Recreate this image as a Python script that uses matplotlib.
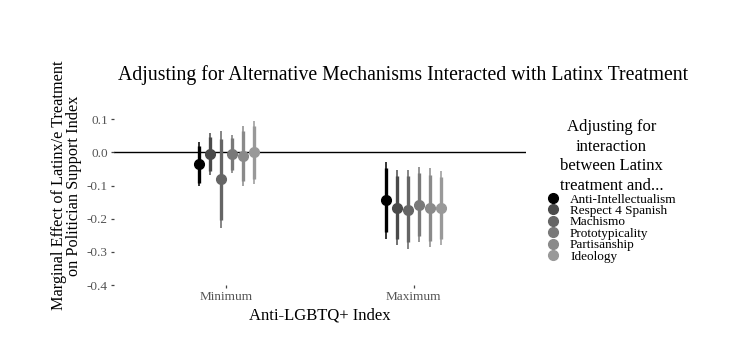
import matplotlib.pyplot as plt
from matplotlib.lines import Line2D
import numpy as np

plt.rcParams['font.family'] = ['Liberation Serif', 'DejaVu Serif']

# datos
levels = ['Minimum', 'Maximum']
mechanisms = ['Anti-Intellectualism', 'Respect 4 Spanish', 'Machismo',
              'Prototypicality', 'Partisanship', 'Ideology']
est_min = [-0.035, -0.006, -0.080, -0.006, -0.010, 0.000]
lo_min = [-0.102, -0.067, -0.227, -0.063, -0.100, -0.095]
hi_min = [0.030, 0.057, 0.063, 0.052, 0.080, 0.095]
est_max = [-0.145, -0.167, -0.173, -0.158, -0.167, -0.167]
lo_max = [-0.260, -0.280, -0.290, -0.270, -0.285, -0.280]
hi_max = [-0.030, -0.052, -0.052, -0.045, -0.048, -0.055]
yticks = [0.1, 0.0, -0.1, -0.2, -0.3, -0.4]

greys = ['#000000', '#4a4a4a', '#656565', '#797979', '#8a8a8a', '#999999']

W, H = 742, 351
fig = plt.figure(figsize=(W / 100, H / 100), dpi=100)
# panel en pixeles: x 114-526, y 86-285
ax = fig.add_axes([114 / W, 1 - 285 / H, (526 - 114) / W, (285 - 86) / H])

ax.axhline(0, color='black', lw=1.0, zorder=1)

dodge = 0.058
est = np.array([est_min, est_max])
lo = np.array([lo_min, lo_max])
hi = np.array([hi_min, hi_max])
for j, name in enumerate(mechanisms):
    off = (j - 2.5) * dodge
    for i in range(len(levels)):
        x = i + 1 + off
        half = (hi[i, j] - lo[i, j]) / 2
        mid = (hi[i, j] + lo[i, j]) / 2
        ax.plot([x, x], [lo[i, j], hi[i, j]], color=greys[j], lw=1.1,
                solid_capstyle='butt', zorder=2)
        ax.plot([x, x], [mid - 0.84 * half, mid + 0.84 * half], color=greys[j],
                lw=2.4, solid_capstyle='butt', zorder=2)
    ax.plot(np.arange(1, len(levels) + 1) + off, est[:, j], 'o', color=greys[j],
            ms=7, zorder=3)

ax.set_xlim(0.4, 2.6)
ax.set_ylim(-0.4, 0.2)
ax.set_xticks([1, 2])
ax.set_xticklabels(levels)
ax.set_yticks(yticks)
ax.set_yticklabels(['%.1f' % v for v in yticks])
for s in ax.spines.values():
    s.set_visible(False)
ax.tick_params(axis='both', colors='#444444', labelcolor='#555555', labelsize=9.5,
               length=2.5, width=0.9, pad=2)

ax.set_xlabel('Anti-LGBTQ+ Index', fontsize=12, labelpad=3)
ax.set_ylabel('Marginal Effect of Latinx/e Treatment\non Politician Support Index',
              fontsize=11.7, labelpad=3, linespacing=0.95)

fig.text(403 / W, 1 - 75 / H, 'Adjusting for Alternative Mechanisms Interacted with Latinx Treatment',
         ha='center', va='center', fontsize=14.2)

handles = [Line2D([], [], ls='none', marker='o', ms=7, color=c) for c in greys]
leg = fig.legend(handles, mechanisms, loc='upper left',
                 bbox_to_anchor=(541 / W, 1 - 114 / H),
                 title='Adjusting for\ninteraction\nbetween Latinx\ntreatment and...',
                 title_fontsize=12, fontsize=9.5, frameon=False,
                 labelspacing=-0.06, handletextpad=0.8, handlelength=1.0,
                 alignment='center', borderaxespad=0)
leg.get_title().set_multialignment('center')
leg.get_title().set_linespacing(1.3)

fig.savefig('out.png', dpi=100)
